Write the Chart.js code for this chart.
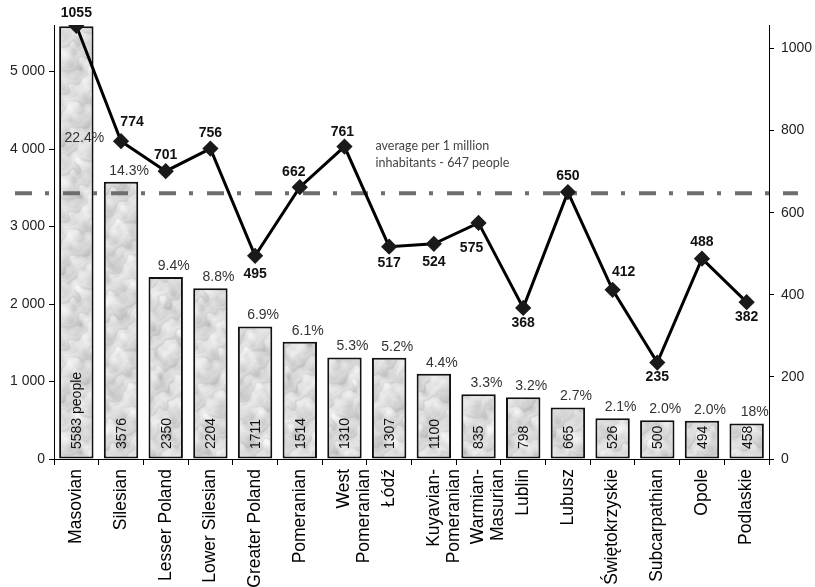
<!DOCTYPE html>
<html>
<head>
<meta charset="utf-8">
<script src="https://cdn.jsdelivr.net/npm/chart.js@4.4.1/dist/chart.umd.min.js"></script>
<style>
  html, body { margin: 0; padding: 0; background: #fff; }
  #wrap { width: 815px; height: 587px; }
</style>
</head>
<body>
<div id="wrap"><canvas id="myChart" width="815" height="587"></canvas></div>
<script>
const regions = [
    'Masovian', 'Silesian', 'Lesser Poland', 'Lower Silesian', 'Greater Poland',
    'Pomeranian', ['West', 'Pomeranian'], 'Łódź', ['Kuyavian-', 'Pomeranian'],
    ['Warmian-', 'Masurian'], 'Lublin', 'Lubusz', 'Świętokrzyskie', 'Subcarpathian',
    'Opole', 'Podlaskie'
];
const people = [5583, 3576, 2350, 2204, 1711, 1514, 1310, 1307, 1100, 835, 798, 665, 526, 500, 494, 458];
const shares = ['22.4%', '14.3%', '9.4%', '8.8%', '6.9%', '6.1%', '5.3%', '5.2%', '4.4%', '3.3%', '3.2%', '2.7%', '2.1%', '2.0%', '2.0%', '18%'];
const perMillion = [1055, 774, 701, 756, 495, 662, 761, 517, 524, 575, 368, 650, 412, 235, 488, 382];
const average = 647;
const leftTicks = [0, 1000, 2000, 3000, 4000, 5000];
const rightTicks = [0, 200, 400, 600, 800, 1000];

const FONT = '"Liberation Sans", Arial, sans-serif';

// mottled grey marble fill for the bars (tileable, built from sines)
function marble() {
    const n = 128;
    const c = document.createElement('canvas');
    c.width = n; c.height = n;
    const g = c.getContext('2d');
    const img = g.createImageData(n, n);
    const u = Math.PI * 2 / n;
    const waves = [[3, 2, 0.0, 1], [-2, 5, 1.3, 0.8], [5, -1, 2.1, 0.7], [7, 4, 0.4, 0.5],
                   [-4, 9, 2.8, 0.45], [9, -6, 1.7, 0.35], [11, 3, 0.9, 0.3], [-13, 7, 2.2, 0.25]];
    for (let y = 0; y < n; y++) {
        for (let x = 0; x < n; x++) {
            let s = 0;
            for (const w of waves) s += w[3] * Math.sin(u * (w[0] * x + w[1] * y) + w[2]);
            s /= 2.2;
            const streak = Math.sin(u * (4 * x + 6 * y) + 2.5 * s);
            const fine = Math.sin(u * (10 * x + 14 * y) + 3 * s);
            let v = 222 + 16 * s
                - 28 * Math.max(0, streak - 0.55)
                - 14 * Math.max(0, fine - 0.6);
            const i = (y * n + x) * 4;
            img.data[i] = img.data[i + 1] = img.data[i + 2] = Math.min(250, v);
            img.data[i + 3] = 255;
        }
    }
    g.putImageData(img, 0, 0);
    return c;
}

const ctx = document.getElementById('myChart').getContext('2d');
const texture = ctx.createPattern(marble(), 'repeat');

// label offsets for the line values [dx, dy]
const lineLabelOffset = [
    [0, -13], [11, -19], [0, -16], [0, -15], [0, 18], [-6, -15], [-2, -14], [0, 16],
    [0, 18], [-7, 25], [0, 15], [0, -16], [11, -18], [0, 15], [0, -16], [0, 15]
];

const extras = {
    id: 'extras',
    afterDatasetDraw(chart, args) {
        if (args.index !== 0) return;
        const c = chart.ctx;
        const x = chart.scales.x;
        const yl = chart.scales.y;
        const yr = chart.scales.y1;
        const meta = chart.getDatasetMeta(0);
        c.save();
        // values inside bars
        c.fillStyle = '#111';
        c.font = '14px ' + FONT;
        c.textAlign = 'left';
        c.textBaseline = 'middle';
        meta.data.forEach((bar, i) => {
            c.save();
            c.translate(bar.x + 1, yl.getPixelForValue(0) - 10);
            c.rotate(-Math.PI / 2);
            c.fillText(i === 0 ? people[i] + ' people' : String(people[i]), 0, 0);
            c.restore();
        });
        // shares above bars
        c.fillStyle = '#333';
        c.font = '14px ' + FONT;
        c.textAlign = 'center';
        c.textBaseline = 'bottom';
        meta.data.forEach((bar, i) => {
            const ty = i === 0 ? yl.getPixelForValue(4050) : bar.y - 4;
            c.fillText(shares[i], bar.x + 8, ty);
        });
        // average dash-dot line
        const ya = yr.getPixelForValue(average);
        c.strokeStyle = '#6e6e6e';
        c.lineWidth = 4;
        c.setLineDash([17, 13, 4, 14]);
        c.beginPath();
        c.moveTo(15, ya);
        c.lineTo(798, ya);
        c.stroke();
        c.setLineDash([]);
        c.fillStyle = '#444';
        c.font = '12.5px Lato, "Open Sans", sans-serif';
        c.textAlign = 'left';
        c.textBaseline = 'middle';
        const ax = x.getPixelForValue(6) + 31;
        c.fillText('average per 1 million', ax, ya - 47);
        c.fillText('inhabitants - 647 people', ax, ya - 30);
        c.restore();
    },
    afterDatasetsDraw(chart) {
        const c = chart.ctx;
        const meta = chart.getDatasetMeta(1);
        c.save();
        c.fillStyle = '#111';
        c.font = 'bold 14px ' + FONT;
        c.textAlign = 'center';
        c.textBaseline = 'middle';
        meta.data.forEach((pt, i) => {
            const o = lineLabelOffset[i];
            c.fillText(String(perMillion[i]), pt.x + o[0], pt.y + o[1]);
        });
        c.restore();
    }
};

const myChart = new Chart(ctx, {
    type: 'bar',
    data: {
        labels: regions,
        datasets: [
            {
                type: 'bar',
                label: 'people',
                data: people,
                yAxisID: 'y',
                backgroundColor: texture,
                borderColor: '#111',
                borderWidth: 2,
                borderSkipped: false,
                categoryPercentage: 1,
                barPercentage: 0.77,
                order: 2
            },
            {
                type: 'line',
                label: 'per 1 million',
                data: perMillion,
                yAxisID: 'y1',
                borderColor: '#000',
                borderWidth: 3,
                pointStyle: 'rectRot',
                pointRadius: 6,
                pointBackgroundColor: '#1a1a1a',
                pointBorderColor: '#1a1a1a',
                tension: 0,
                order: 1
            }
        ]
    },
    options: {
        responsive: false,
        animation: false,
        layout: { padding: { top: 25, left: 0, right: 0, bottom: 0 } },
        plugins: {
            legend: { display: false },
            tooltip: { enabled: false }
        },
        scales: {
            x: {
                offset: true,
                afterFit: s => { s.height = 128; },
                grid: { offset: true, drawOnChartArea: false, tickLength: 6, color: '#000' },
                border: { color: '#000', width: 1 },
                ticks: {
                    color: '#000',
                    font: { family: FONT, size: 17.5, lineHeight: 1.15 },
                    minRotation: 90,
                    maxRotation: 90,
                    autoSkip: false,
                    padding: 4
                }
            },
            y: {
                position: 'left',
                min: 0,
                max: 5600,
                afterFit: s => { s.width = 54; },
                afterBuildTicks: s => { s.ticks = leftTicks.map(v => ({ value: v })); },
                grid: { drawOnChartArea: false, tickLength: 5, color: '#000' },
                border: { color: '#000', width: 1 },
                ticks: {
                    color: '#222',
                    padding: 4,
                    font: { family: FONT, size: 14 },
                    callback: v => String(v).replace(/\B(?=(\d{3})+(?!\d))/g, ' ')
                }
            },
            y1: {
                position: 'right',
                min: 0,
                max: 1057,
                afterFit: s => { s.width = 46; },
                afterBuildTicks: s => { s.ticks = rightTicks.map(v => ({ value: v })); },
                grid: { drawOnChartArea: false, tickLength: 5, color: '#000' },
                border: { color: '#000', width: 1 },
                ticks: {
                    color: '#222',
                    padding: 7,
                    font: { family: FONT, size: 14 },
                    callback: v => String(v)
                }
            }
        }
    },
    plugins: [extras]
});
</script>
</body>
</html>
